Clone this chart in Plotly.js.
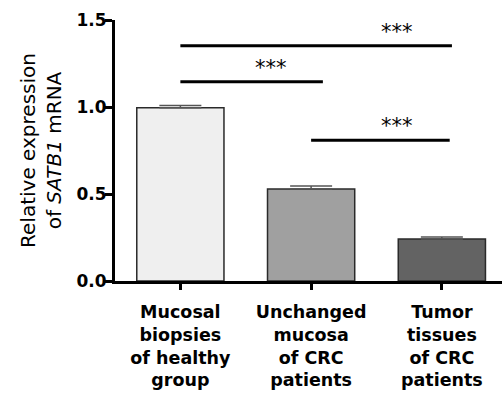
<!DOCTYPE html>
<html>
<head>
<meta charset="utf-8">
<script src="https://cdn.plot.ly/plotly-3.0.1.min.js"></script>
<style>html,body{margin:0;padding:0;background:#fff;}#chart{width:502px;height:393px;}</style>
</head>
<body>
<div id="chart"></div>
<script>
const categories = ["Mucosal<br>biopsies<br>of healthy<br>group", "Unchanged<br>mucosa<br>of CRC<br>patients", "Tumor<br>tissues<br>of CRC<br>patients"];
const means = [0.996, 0.529, 0.241];
const sems = [0.012, 0.017, 0.012];
const barColors = ["#efefef", "#a0a0a0", "#636363"];
const comparisons = [[0, 2], [0, 1], [1, 2]];
const compLabels = ["***", "***", "***"];

const xIdx = categories.map((c, i) => i);

const trace = {
  type: 'bar',
  x: xIdx,
  y: means,
  width: 0.667,
  marker: {color: barColors, line: {color: '#2a2a2a', width: 1.5}},
  error_y: {type: 'data', array: sems, arrayminus: sems.map(() => 0), symmetric: false,
            color: '#555555', thickness: 1.5, width: 21},
  hoverinfo: 'skip'
};

// significance bar geometry (heights in data units, extents in category units)
const sigY = [1.352, 1.145, 0.809];
const sigX1Extra = [0.077, 0.09, 0.06];
const starX = [1.655, 0.69, 1.655];
const shapes = comparisons.map((p, k) => ({
  type: 'line', xref: 'x', yref: 'y',
  x0: p[0], x1: p[1] + sigX1Extra[k], y0: sigY[k], y1: sigY[k],
  line: {color: '#000', width: 3}
}));
const annotations = comparisons.map((p, k) => ({
  xref: 'x', yref: 'y', x: starX[k], y: sigY[k], yanchor: 'bottom', yshift: 0,
  text: compLabels[k], showarrow: false,
  font: {family: 'DejaVu Sans', size: 21, color: '#000'}
}));

const layout = {
  width: 502, height: 393,
  margin: {l: 115, r: 0, t: 20, b: 112},
  paper_bgcolor: '#fff', plot_bgcolor: '#fff',
  showlegend: false,
  bargap: 0,
  xaxis: {
    range: [-0.5, 2.46], tickvals: xIdx, ticktext: categories,
    showline: true, linecolor: '#000', linewidth: 3,
    ticks: 'outside', ticklen: 6, tickwidth: 3, tickcolor: '#000',
    ticklabelstandoff: 7,
    showgrid: false, zeroline: false, fixedrange: true,
    tickfont: {family: 'DejaVu Sans', size: 17.5, color: '#000', weight: 'bold'}
  },
  yaxis: {
    range: [0, 1.5], tickvals: [0, 0.5, 1.0, 1.5], tickformat: '.1f',
    showline: true, linecolor: '#000', linewidth: 3,
    ticks: 'outside', ticklen: 7, tickwidth: 3, tickcolor: '#000',
    ticklabelstandoff: -5,
    showgrid: false, zeroline: false, fixedrange: true,
    tickfont: {family: 'DejaVu Sans', size: 17, color: '#000', weight: 'bold'},
    title: {text: 'Relative expression<br>of <i>SATB1</i> mRNA', standoff: 10,
            font: {family: 'DejaVu Sans', size: 20, color: '#000'}}
  },
  shapes: shapes,
  annotations: annotations
};

Plotly.newPlot('chart', [trace], layout, {displayModeBar: false, staticPlot: true});
</script>
</body>
</html>
